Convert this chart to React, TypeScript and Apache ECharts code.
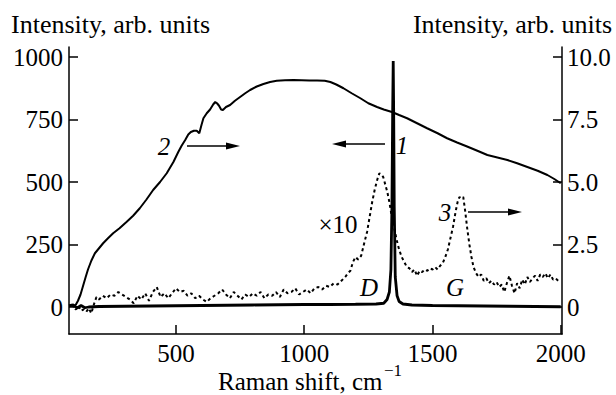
import React, { useEffect, useRef } from "react";
import * as echarts from "echarts";

// Curve 1 (left axis), Raman spectrum with sharp peak
const c1X = [83, 100, 115, 130, 145, 160, 180, 200, 300, 400, 500, 600, 700, 800, 900, 1000, 1100, 1200, 1280, 1310, 1323, 1332, 1338, 1342, 1345, 1347, 1349, 1351, 1355, 1362, 1370, 1385, 1420, 1500, 1600, 1700, 1800, 1900, 2000];
const c1Y = [5, 8, -4, 6, -3, 0, 1, 2, 3, 4, 5, 6, 7, 8, 9, 10, 10, 11, 12, 15, 30, 60, 150, 400, 800, 984, 750, 400, 120, 45, 22, 12, 8, 6, 5, 4, 3, 2, 1];

// Curve 2 (right axis)
const c2X = [98, 110, 118, 128, 138, 148, 157, 170, 184, 200, 216, 235, 255, 280, 307, 333, 359, 385, 411, 438, 464, 490, 509, 522, 536, 548, 558, 570, 581, 591, 600, 607, 620, 633, 645, 653, 660, 668, 676, 683, 695, 711, 730, 750, 770, 789, 815, 841, 867, 893, 925, 958, 990, 1020, 1050, 1080, 1102, 1125, 1153, 1185, 1219, 1250, 1284, 1310, 1342, 1370, 1401, 1440, 1479, 1520, 1557, 1596, 1635, 1675, 1714, 1753, 1792, 1830, 1870, 1910, 1948, 1975, 2000];
const c2Y = [0.0, 0.1, 0.25, 0.5, 0.85, 1.2, 1.5, 1.85, 2.15, 2.35, 2.55, 2.75, 2.95, 3.15, 3.4, 3.65, 3.95, 4.3, 4.68, 5.0, 5.35, 5.8, 6.2, 6.45, 6.68, 6.9, 7.0, 7.05, 7.05, 6.95, 7.3, 7.55, 7.75, 7.9, 8.1, 8.2, 8.15, 8.05, 7.9, 7.88, 8.0, 8.08, 8.25, 8.4, 8.55, 8.68, 8.82, 8.92, 9.0, 9.05, 9.07, 9.08, 9.07, 9.06, 9.06, 9.05, 9.0, 8.9, 8.75, 8.55, 8.35, 8.15, 8.0, 7.9, 7.8, 7.68, 7.55, 7.35, 7.15, 6.95, 6.75, 6.58, 6.42, 6.25, 6.08, 5.98, 5.88, 5.75, 5.6, 5.45, 5.28, 5.12, 4.95];

// Curve 3 (right axis, x10, dotted)
const c3X = [90, 100, 110, 120, 130, 140, 150, 160, 170, 180, 190, 200, 215, 230, 245, 260, 275, 290, 305, 320, 335, 350, 365, 380, 395, 410, 425, 440, 455, 470, 485, 500, 515, 530, 545, 560, 575, 590, 605, 620, 635, 650, 665, 680, 695, 710, 725, 740, 755, 770, 785, 800, 815, 830, 845, 860, 875, 890, 905, 920, 935, 950, 965, 980, 995, 1010, 1025, 1040, 1055, 1070, 1085, 1100, 1115, 1130, 1145, 1160, 1170, 1180, 1190, 1200, 1210, 1222, 1235, 1245, 1255, 1265, 1275, 1285, 1293, 1300, 1308, 1316, 1324, 1332, 1340, 1350, 1360, 1370, 1380, 1390, 1400, 1410, 1420, 1430, 1440, 1450, 1460, 1470, 1480, 1490, 1500, 1510, 1520, 1530, 1540, 1550, 1560, 1570, 1580, 1590, 1598, 1605, 1612, 1620, 1628, 1636, 1644, 1652, 1660, 1670, 1680, 1690, 1700, 1710, 1720, 1730, 1740, 1750, 1760, 1770, 1780, 1790, 1800, 1810, 1820, 1830, 1840, 1850, 1860, 1870, 1880, 1890, 1900, 1910, 1920, 1930, 1940, 1950, 1960, 1970, 1980, 1990, 2000];
const c3Y = [0.1, 0.0, -0.1, 0.05, -0.15, -0.1, -0.2, -0.05, -0.25, 0.1, 0.4, 0.3, 0.45, 0.35, 0.5, 0.45, 0.6, 0.5, 0.4, 0.3, 0.15, 0.45, 0.3, 0.55, 0.25, 0.6, 0.8, 0.4, 0.55, 0.35, 0.55, 0.75, 0.6, 0.65, 0.45, 0.55, 0.35, 0.45, 0.3, 0.2, 0.35, 0.45, 0.55, 0.7, 0.5, 0.35, 0.6, 0.45, 0.3, 0.5, 0.4, 0.55, 0.45, 0.6, 0.35, 0.5, 0.45, 0.6, 0.4, 0.7, 0.55, 0.6, 0.75, 0.5, 0.6, 0.7, 0.55, 0.75, 0.8, 0.7, 0.85, 0.8, 0.95, 0.9, 1.05, 1.2, 1.35, 1.45, 1.8, 2.0, 1.9, 2.05, 2.6, 3.0, 3.6, 4.2, 4.7, 5.1, 5.35, 5.3, 5.2, 4.9, 4.6, 4.2, 3.7, 3.2, 2.7, 2.3, 2.0, 1.8, 1.6, 1.55, 1.4, 1.5, 1.25, 1.45, 1.4, 1.5, 1.45, 1.55, 1.5, 1.6, 1.5, 1.65, 1.75, 2.0, 2.3, 2.75, 3.2, 3.8, 4.2, 4.4, 4.35, 4.4, 3.8, 3.1, 2.5, 2.0, 1.6, 1.35, 1.2, 1.3, 1.05, 1.15, 0.95, 1.05, 0.9, 1.0, 0.8, 0.9, 0.6, 0.95, 1.25, 0.85, 0.55, 0.95, 0.75, 1.1, 0.9, 1.2, 1.0, 1.15, 1.25, 1.05, 1.3, 1.2, 1.35, 1.15, 1.3, 1.1, 1.15, 1.05, 1.1];

const xTicks = [500, 1000, 1500, 2000];
const leftTicks = [0, 250, 500, 750, 1000];
const rightTicks = [0, 2.5, 5, 7.5, 10];

const FONT = "Liberation Serif";

function zip(xs: number[], ys: number[]) {
  return xs.map((x, i) => [x, ys[i]]);
}

export default function App() {
  const ref = useRef<HTMLDivElement>(null);
  useEffect(() => {
    document.body.style.margin = "0";
    const chart = echarts.init(ref.current!, null, { renderer: "svg" });
    const axisLine = { show: true, lineStyle: { color: "#000", width: 1.5 } };
    const label = { color: "#000", fontSize: 25, fontFamily: FONT };
    const txt = (text: string, x: number, y: number, opts: any = {}) => ({
      type: "text",
      x,
      y,
      style: {
        text,
        fill: "#000",
        fontSize: opts.size ?? 25,
        fontFamily: FONT,
        fontStyle: opts.italic ? "italic" : "normal",
        textAlign: opts.align ?? "center",
        textVerticalAlign: "middle",
      },
    });
    const arrow = (x1: number, x2: number, y: number) => {
      const dir = x2 > x1 ? 1 : -1;
      const hx = x2 - dir * 14;
      return [
        { type: "line", shape: { x1, y1: y, x2: hx, y2: y }, style: { stroke: "#000", lineWidth: 1.5 } },
        { type: "polygon", shape: { points: [[x2, y], [hx, y - 3.5], [hx, y + 3.5]] }, style: { fill: "#000" } },
      ];
    };
    chart.setOption({
      animation: false,
      backgroundColor: "#fff",
      textStyle: { fontFamily: FONT },
      grid: { left: 69, right: 54, top: 47, bottom: 61, containLabel: false, outerBoundsMode: "none" },
      xAxis: {
        type: "value",
        min: 83,
        max: 2005,
        axisLine: { ...axisLine, onZero: false },
        axisTick: { show: true, inside: true, length: 9, lineStyle: { color: "#000", width: 1.5 }, customValues: xTicks },
        axisLabel: { ...label, margin: 7, customValues: xTicks, formatter: (v: number) => String(v) },
        splitLine: { show: false },
      },
      yAxis: [
        {
          type: "value",
          min: -108,
          max: 1040,
          position: "left",
          axisLine: { ...axisLine, onZero: false },
          axisTick: { show: true, inside: true, length: 9, lineStyle: { color: "#000", width: 1.5 }, customValues: leftTicks },
          axisLabel: { ...label, margin: 6, customValues: leftTicks, formatter: (v: number) => String(v) },
          splitLine: { show: false },
        },
        {
          type: "value",
          min: -1.08,
          max: 10.4,
          position: "right",
          axisLine: { ...axisLine, onZero: false },
          axisTick: { show: true, inside: true, length: 9, lineStyle: { color: "#000", width: 1.5 }, customValues: rightTicks },
          axisLabel: {
            ...label,
            margin: 5,
            customValues: rightTicks,
            formatter: (v: number) => (v === 0 ? "0" : v.toFixed(1)),
          },
          splitLine: { show: false },
        },
      ],
      series: [
        {
          type: "line",
          yAxisIndex: 1,
          data: zip(c3X, c3Y),
          showSymbol: false,
          lineStyle: { color: "#000", width: 2, type: [3, 3] },
        },
        {
          type: "line",
          yAxisIndex: 1,
          data: zip(c2X, c2Y),
          showSymbol: false,
          lineStyle: { color: "#000", width: 2 },
        },
        {
          type: "line",
          yAxisIndex: 0,
          data: zip(c1X, c1Y),
          showSymbol: false,
          lineStyle: { color: "#000", width: 2.8 },
        },
      ],
      graphic: [
        txt("Intensity, arb. units", 11, 24, { align: "left", size: 26 }),
        txt("Intensity, arb. units", 612, 24, { align: "right", size: 26 }),
        txt("Raman shift, cm", 218, 381, { align: "left" }),
        txt("\u22121", 384, 370, { align: "left", size: 17 }),
        txt("2", 164, 146, { italic: true }),
        txt("1", 402, 145, { italic: true }),
        txt("\u00d710", 338, 224),
        txt("D", 369, 287, { italic: true }),
        txt("G", 455, 287, { italic: true }),
        txt("3", 445, 212, { italic: true }),
        ...arrow(187, 240, 146),
        ...arrow(385, 332, 144),
        ...arrow(468, 522, 212),
      ],
    });
    return () => chart.dispose();
  }, []);
  return <div ref={ref} style={{ width: 616, height: 395 }} />;
}
